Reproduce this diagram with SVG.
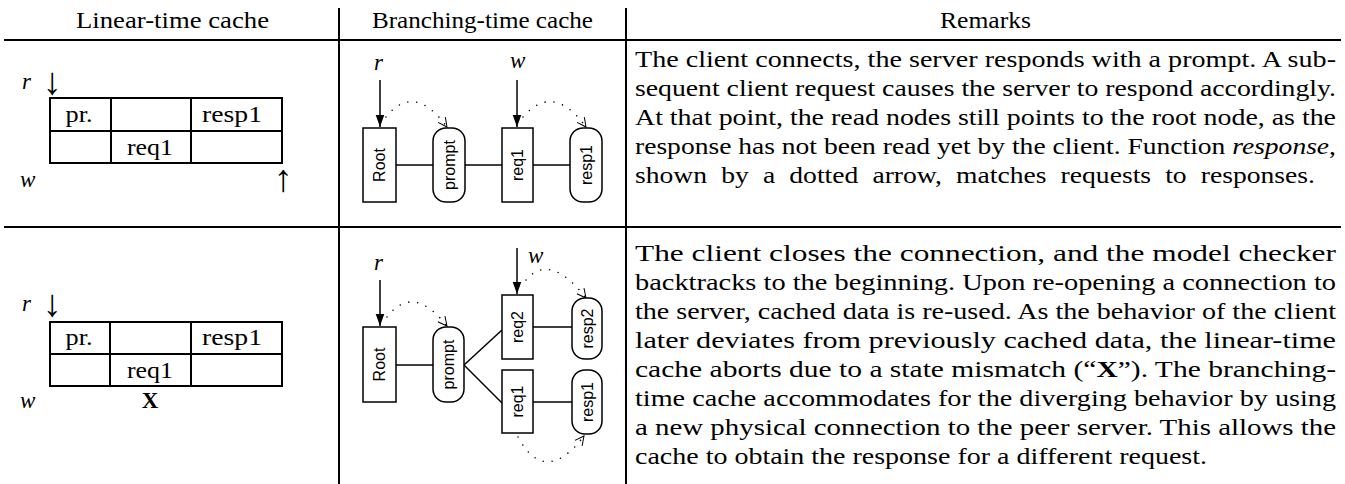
<svg xmlns="http://www.w3.org/2000/svg" width="1345" height="484" viewBox="0 0 1345 484">
<style>
.rule{stroke:#000;stroke-width:2;fill:none}
.serif{font-family:"Liberation Serif","Times New Roman",serif;font-size:23px;fill:#000}
.arw{font-family:"Liberation Serif","Times New Roman",serif;font-size:38px;fill:#000;text-anchor:middle}
.it{font-style:italic}
.bd{font-weight:bold}
.cell{fill:none;stroke:#000;stroke-width:2}
.ctr{text-anchor:middle}
.node{fill:#fff;stroke:#000;stroke-width:1.5}
.lbl{font-family:"Liberation Sans",Arial,sans-serif;font-size:16px;fill:#000;text-anchor:middle;dominant-baseline:central}
.edge{stroke:#000;stroke-width:1.5;fill:none}
.ptr{stroke:#000;stroke-width:1.5;fill:none;marker-end:url(#solid)}
.resp{stroke:#000;stroke-width:1.6;fill:none;stroke-dasharray:0 9;stroke-linecap:round;marker-end:url(#open)}
</style>
<defs>
<marker id="solid" markerUnits="userSpaceOnUse" markerWidth="12" markerHeight="16" refX="14" refY="5" orient="auto" viewBox="0 0 14 10">
<path d="M0,0 L14,5 L0,10 Z" fill="#000"/>
</marker>
<marker id="open" markerUnits="userSpaceOnUse" markerWidth="12" markerHeight="12" refX="9" refY="4.5" orient="auto" viewBox="-1 -1 12 11">
<path d="M0,0 L9,4.5 L0,9" fill="none" stroke="#000" stroke-width="1" stroke-dasharray="none"/>
</marker>
</defs>
<rect width="1345" height="484" fill="#fff"/>

<g id="table-rules">
<line class="rule" x1="339" y1="8" x2="339" y2="484"/>
<line class="rule" x1="626" y1="8" x2="626" y2="484"/>
<line class="rule" x1="4" y1="40" x2="1341" y2="40"/>
<line class="rule" x1="4" y1="227" x2="1341" y2="227"/>
</g>

<g id="headers" class="serif">
<text x="76" y="28" textLength="193" lengthAdjust="spacingAndGlyphs">Linear-time cache</text>
<text x="372" y="28" textLength="221" lengthAdjust="spacingAndGlyphs">Branching-time cache</text>
<text x="940" y="28" textLength="91" lengthAdjust="spacingAndGlyphs">Remarks</text>
</g>

<g id="linear-cache-1" class="serif">
<text x="22" y="89" class="it">r</text>
<text x="52" y="94" class="arw">↓</text>
<rect class="cell" x="50" y="98" width="232" height="65"/>
<line class="cell" x1="50" y1="131" x2="282" y2="131"/>
<line class="cell" x1="111" y1="98" x2="111" y2="163"/>
<line class="cell" x1="191" y1="98" x2="191" y2="163"/>
<text x="79" y="122" class="ctr" textLength="27" lengthAdjust="spacingAndGlyphs">pr.</text>
<text x="232" y="122" class="ctr" textLength="60" lengthAdjust="spacingAndGlyphs">resp1</text>
<text x="150" y="155" class="ctr" textLength="46" lengthAdjust="spacingAndGlyphs">req1</text>
<text x="20" y="187" class="it">w</text>
<text x="283" y="191" class="arw">↑</text>
</g>

<g id="linear-cache-2" class="serif">
<text x="22" y="311" class="it">r</text>
<text x="52" y="316" class="arw">↓</text>
<rect class="cell" x="50" y="322" width="232" height="64"/>
<line class="cell" x1="50" y1="354" x2="282" y2="354"/>
<line class="cell" x1="110" y1="322" x2="110" y2="386"/>
<line class="cell" x1="191" y1="322" x2="191" y2="386"/>
<text x="79" y="345" class="ctr" textLength="27" lengthAdjust="spacingAndGlyphs">pr.</text>
<text x="232" y="345" class="ctr" textLength="60" lengthAdjust="spacingAndGlyphs">resp1</text>
<text x="150" y="378" class="ctr" textLength="46" lengthAdjust="spacingAndGlyphs">req1</text>
<text x="20" y="408" class="it">w</text>
<text x="150" y="408" class="ctr bd">X</text>
</g>

<g id="connectors">
<line class="edge" x1="396" y1="165" x2="433" y2="165"/>
<line class="edge" x1="465" y1="165" x2="502" y2="165"/>
<line class="edge" x1="533" y1="165" x2="570" y2="165"/>
<line class="ptr" x1="380" y1="80" x2="380" y2="127"/>
<line class="ptr" x1="517" y1="80" x2="517" y2="127"/>
<path class="resp" d="M386,117 Q414,82 447,127"/>
<path class="resp" d="M523,117 Q553,82 586,127"/>

<line class="edge" x1="396" y1="365" x2="433" y2="365"/>
<line class="edge" x1="464" y1="365" x2="502" y2="330"/>
<line class="edge" x1="464" y1="365" x2="502" y2="403"/>
<line class="edge" x1="533" y1="327" x2="572" y2="327"/>
<line class="edge" x1="533" y1="402" x2="572" y2="402"/>
<line class="ptr" x1="380" y1="280" x2="380" y2="326"/>
<line class="ptr" x1="517" y1="248" x2="517" y2="294"/>
<path class="resp" d="M387,317 Q413,283 447,326"/>
<path class="resp" d="M526,280 Q550,252 586,298"/>
<path class="resp" d="M518,437 Q545,487 584,436"/>
</g>

<g id="pointer-labels" class="serif it">
<text x="374" y="70">r</text>
<text x="510" y="68">w</text>
<text x="374" y="270">r</text>
<text x="528" y="263">w</text>
</g>

<g id="n1-root"><rect class="node" x="363" y="128" width="33" height="74"/><text class="lbl" transform="translate(379.5,165) rotate(-90)">Root</text></g>
<g id="n1-prompt"><rect class="node" x="433" y="128" width="32" height="74" rx="13"/><text class="lbl" transform="translate(449,165) rotate(-90)">prompt</text></g>
<g id="n1-req1"><rect class="node" x="502" y="128" width="31" height="74"/><text class="lbl" transform="translate(517.5,165) rotate(-90)">req1</text></g>
<g id="n1-resp1"><rect class="node" x="570" y="128" width="32" height="74" rx="13"/><text class="lbl" transform="translate(586,165) rotate(-90)">resp1</text></g>

<g id="n2-root"><rect class="node" x="363" y="327" width="33" height="75"/><text class="lbl" transform="translate(379.5,364.5) rotate(-90)">Root</text></g>
<g id="n2-prompt"><rect class="node" x="433" y="327" width="31" height="75" rx="13"/><text class="lbl" transform="translate(448.5,364.5) rotate(-90)">prompt</text></g>
<g id="n2-req2"><rect class="node" x="502" y="295" width="31" height="64"/><text class="lbl" transform="translate(517.5,327) rotate(-90)">req2</text></g>
<g id="n2-resp2"><rect class="node" x="572" y="298" width="30" height="61" rx="13"/><text class="lbl" transform="translate(587,328.5) rotate(-90)">resp2</text></g>
<g id="n2-req1"><rect class="node" x="502" y="370" width="31" height="63"/><text class="lbl" transform="translate(517.5,401.5) rotate(-90)">req1</text></g>
<g id="n2-resp1"><rect class="node" x="572" y="370" width="30" height="64" rx="13"/><text class="lbl" transform="translate(587,402) rotate(-90)">resp1</text></g>

<g id="remarks-1" class="serif">
<text x="635" y="67" textLength="701" lengthAdjust="spacingAndGlyphs">The client connects, the server responds with a prompt. A sub-</text>
<text x="635" y="96" textLength="701" lengthAdjust="spacingAndGlyphs">sequent client request causes the server to respond accordingly.</text>
<text x="635" y="125" textLength="701" lengthAdjust="spacingAndGlyphs">At that point, the read nodes still points to the root node, as the</text>
<text x="635" y="154" textLength="701" lengthAdjust="spacingAndGlyphs">response has not been read yet by the client. Function <tspan class="it">response</tspan>,</text>
<text x="635" y="183" word-spacing="6" textLength="680" lengthAdjust="spacingAndGlyphs">shown by a dotted arrow, matches requests to responses.</text>
</g>

<g id="remarks-2" class="serif">
<text x="635" y="261" textLength="701" lengthAdjust="spacingAndGlyphs">The client closes the connection, and the model checker</text>
<text x="635" y="290" textLength="701" lengthAdjust="spacingAndGlyphs">backtracks to the beginning. Upon re-opening a connection to</text>
<text x="635" y="319" textLength="701" lengthAdjust="spacingAndGlyphs">the server, cached data is re-used. As the behavior of the client</text>
<text x="635" y="348" textLength="701" lengthAdjust="spacingAndGlyphs">later deviates from previously cached data, the linear-time</text>
<text x="635" y="377" textLength="701" lengthAdjust="spacingAndGlyphs">cache aborts due to a state mismatch (“<tspan class="bd">X</tspan>”). The branching-</text>
<text x="635" y="406" textLength="701" lengthAdjust="spacingAndGlyphs">time cache accommodates for the diverging behavior by using</text>
<text x="635" y="435" textLength="701" lengthAdjust="spacingAndGlyphs">a new physical connection to the peer server. This allows the</text>
<text x="635" y="464" textLength="572" lengthAdjust="spacingAndGlyphs">cache to obtain the response for a different request.</text>
</g>
</svg>
